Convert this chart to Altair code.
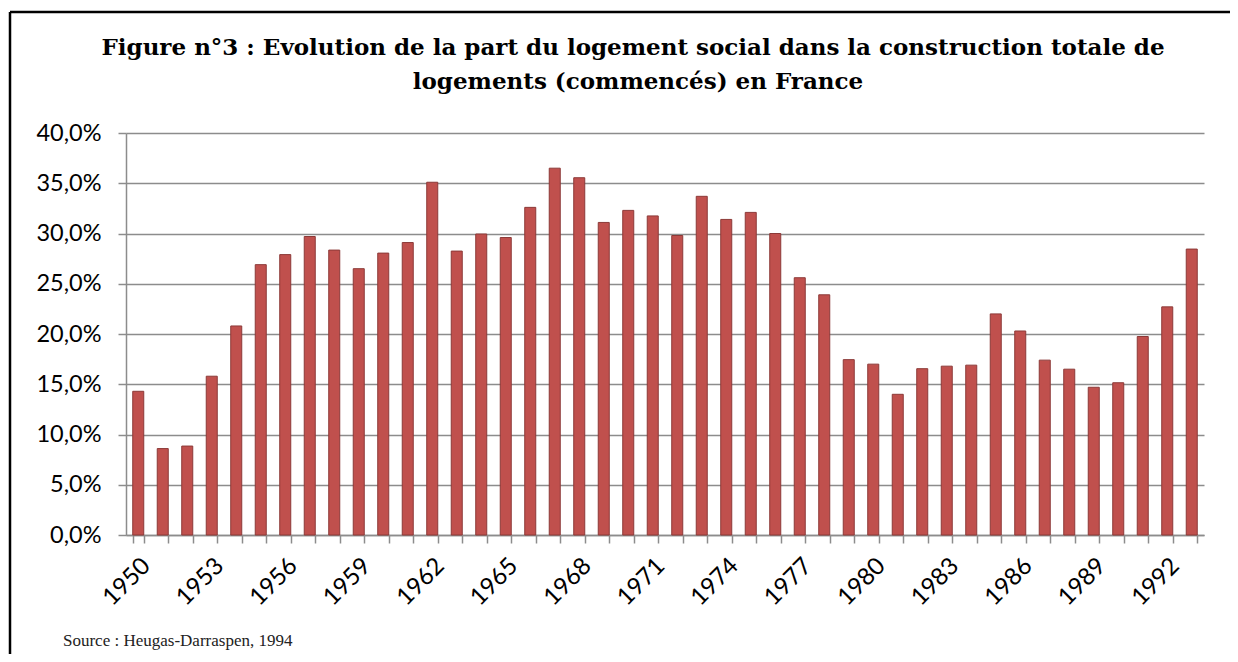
import altair as alt
import pandas as pd

# ---- data ----
years = list(range(1950, 1994))
shares_pct = [14.3, 8.6, 8.85, 15.8, 20.8, 26.9, 27.9, 29.7, 28.35, 26.5,
              28.05, 29.1, 35.1, 28.25, 29.95, 29.6, 32.6, 36.5, 35.55, 31.1,
              32.3, 31.75, 29.8, 33.7, 31.4, 32.1, 30.0, 25.6, 23.9, 17.45,
              17.0, 14.0, 16.55, 16.8, 16.9, 22.0, 20.3, 17.4, 16.5, 14.7,
              15.15, 19.75, 22.7, 28.45]
y_ticks = [0.0, 0.05, 0.10, 0.15, 0.20, 0.25, 0.30, 0.35, 0.40]
title_line1 = ["Figure n°3 : Evolution de la part du logement social dans la construction totale de"]
title_line2 = ["logements (commencés) en France"]
source_text = ["Source : Heugas-Darraspen, 1994"]

W, H = 1078, 402
PAD_L, PAD_T = 118, 125
PAD_R = 1222 - PAD_L - W
PAD_B = 646 - PAD_T - H

df = pd.DataFrame({"year": years, "share": [s / 100 for s in shares_pct]})

bars = alt.Chart(df).mark_bar(color="#C0504D", stroke="#8C3A38", strokeWidth=1).encode(
    x=alt.X("year:O",
            scale=alt.Scale(paddingInner=0.55, paddingOuter=0.275),
            axis=alt.Axis(title=None, labelAngle=-45, labelAlign="right", labelBaseline="middle",
                          labelExpr="(toNumber(datum.value) - 1950) % 3 == 0 ? datum.label : ''",
                          labelOverlap=False, tickBand="extent", tickSize=8, tickWidth=1.5,
                          tickColor="#8c8c8c", domainColor="#8c8c8c", domainWidth=1.5,
                          labelFont="Lato", labelFontSize=24, labelColor="black",
                          labelPadding=19, labelOffset=8, grid=False)),
    y=alt.Y("share:Q",
            scale=alt.Scale(domain=[0, 0.4], nice=False, zero=True),
            axis=alt.Axis(title=None, values=y_ticks,
                          labelExpr="replace(format(datum.value, '.1%'), '.', ',')",
                          grid=True, gridColor="#8c8c8c", gridWidth=1.5,
                          tickSize=8, tickWidth=1.5, tickColor="#8c8c8c",
                          domainColor="#8c8c8c", domainWidth=1.5,
                          labelFont="Lato", labelFontSize=23.5, labelColor="black",
                          labelPadding=17)),
)

one = pd.DataFrame({"k": [0]})
frame_v = alt.Chart(one).mark_rule(color="black", strokeWidth=2.5).encode(
    x=alt.value(-(PAD_L - 2)), y=alt.value(-(PAD_T - 4)), y2=alt.value(H + 300))
frame_h = alt.Chart(one).mark_rule(color="black", strokeWidth=2.5).encode(
    y=alt.value(-(PAD_T - 4)), x=alt.value(-(PAD_L - 2)), x2=alt.value(W + 300))

title1 = alt.Chart(pd.DataFrame({"t": title_line1})).mark_text(
    align="center", baseline="alphabetic", font="DejaVu Serif", fontSize=23,
    fontWeight="bold", color="black").encode(
    x=alt.value(633 - 126), y=alt.value(55 - 133), text="t:N")
title2 = alt.Chart(pd.DataFrame({"t": title_line2})).mark_text(
    align="center", baseline="alphabetic", font="DejaVu Serif", fontSize=23,
    fontWeight="bold", color="black").encode(
    x=alt.value(638 - 126), y=alt.value(89 - 133), text="t:N")

src = alt.Chart(pd.DataFrame({"t": source_text})).mark_text(
    align="left", baseline="alphabetic", font="Liberation Serif", fontSize=17,
    color="#222222").encode(
    x=alt.value(63 - 126), y=alt.value(646 - 133), text="t:N")

chart = alt.layer(bars, frame_v, frame_h, title1, title2, src).properties(
    width=W, height=H,
    autosize=alt.AutoSizeParams(type="none"),
    padding={"left": PAD_L, "top": PAD_T, "right": PAD_R, "bottom": PAD_B},
).configure_view(strokeWidth=0)

chart.save("out.html", embed_options={"renderer": "svg", "actions": False})
